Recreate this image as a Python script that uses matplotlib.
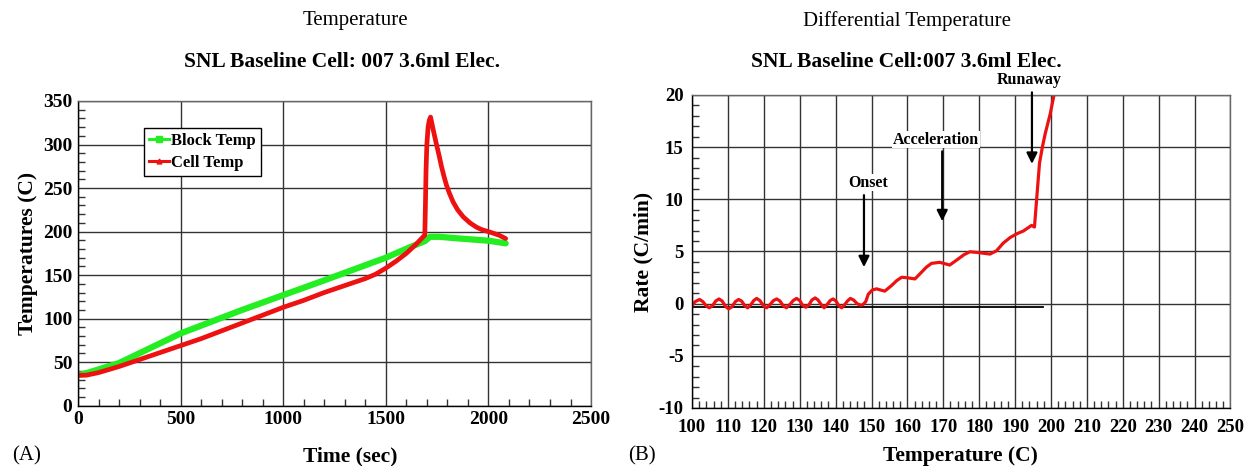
import matplotlib
matplotlib.use("Agg")
import matplotlib.pyplot as plt
from matplotlib.ticker import MultipleLocator
from matplotlib.lines import Line2D

plt.rcParams['font.family'] = ['Liberation Serif', 'DejaVu Serif']
plt.rcParams['axes.unicode_minus'] = False

# panel A: temperatures vs time
block_t = [0, 50, 200, 500, 800, 1000, 1200, 1500, 1617, 1690, 1715, 1760, 1861, 2000, 2084]
block_temp = [35, 38, 49, 83, 110, 127, 144, 170, 182, 189, 194, 194, 192, 189.5, 186.5]

cell_t = [0, 40, 100, 200, 300, 400, 500, 600, 700, 800, 900, 1000, 1100, 1200, 1300,
          1400, 1450, 1500, 1550, 1600, 1650, 1690, 1693, 1696, 1700, 1706, 1712, 1718,
          1730, 1747, 1760, 1771, 1785, 1796, 1810, 1828, 1850, 1877, 1910, 1942, 1970,
          2000, 2050, 2084]
cell_temp = [35, 35, 38, 45, 53, 61, 69, 77, 86, 95, 104, 113, 121, 130, 138,
             146, 151, 158, 166, 175, 186, 196, 230, 270, 300, 320, 328, 331.5,
             318, 300, 287, 275, 262, 253, 244, 234, 225, 217, 210, 205, 202,
             200, 196, 192]

# panel B: rate vs temperature
rate_T = [100.0, 100.9, 102.1, 103.0, 103.9, 104.8, 105.7, 106.6, 107.5, 108.4, 109.3,
          110.2, 111.1, 112.1, 113.0, 113.8, 114.7, 115.5, 116.4, 117.2, 118.0, 118.9,
          119.9, 120.8, 121.7, 122.7, 123.6, 124.5, 125.4, 126.3, 127.2, 128.2, 129.1,
          130.0, 130.8, 131.7, 132.6, 133.4, 134.3, 135.1, 136.0, 136.8, 137.6, 138.5,
          139.3, 140.1, 140.9, 141.7, 142.5, 143.3, 144.1, 145.0, 146.0, 147.0, 147.6,
          148.4, 149.1, 150.2, 151.4, 152.6, 153.7, 155.6, 157.0, 158.4, 160.2, 162.1,
          163.9, 165.3, 166.7, 169.0, 171.8, 174.1, 175.8, 177.4, 179.7, 183.0, 184.8,
          186.7, 188.6, 190.5, 192.3, 194.6, 195.4, 196.0, 196.8, 197.6, 198.4, 199.8,
          200.9, 201.5]
rate = [-0.2, 0.2, 0.4, 0.2, -0.2, -0.4, -0.2, 0.25, 0.45, 0.25, -0.25,
        -0.5, -0.3, 0.2, 0.4, 0.25, -0.2, -0.4, -0.1, 0.3, 0.5, 0.3,
        -0.2, -0.4, -0.1, 0.3, 0.45, 0.25, -0.2, -0.4, -0.1, 0.3, 0.5,
        0.3, -0.15, -0.35, -0.1, 0.35, 0.55, 0.35, -0.1, -0.4, -0.1, 0.3,
        0.45, 0.25, -0.2, -0.4, -0.1, 0.25, 0.5, 0.35, 0.0, -0.15, -0.1,
        0.2, 0.9, 1.3, 1.42, 1.3, 1.2, 1.74, 2.2, 2.53, 2.47, 2.37,
        3.0, 3.5, 3.86, 3.96, 3.7, 4.27, 4.7, 4.97, 4.9, 4.75, 5.06,
        5.8, 6.33, 6.7, 6.96, 7.5, 7.34, 9.97, 13.45, 15.0, 16.3, 18.2,
        20.1, 21.0]
baseline_T = [100, 197.7]
baseline_rate = [-0.32, -0.32]

# annotations: label, arrow x, arrow tail y, arrow tip y, text x, text y
notes = [("Onset", 147.9, 10.4, 3.5, 149.1, 11.6),
         ("Acceleration", 169.7, 14.6, 7.9, 168.0, 15.7),
         ("Runaway", 194.7, 20.25, 13.4, 194.0, 21.4)]

fig = plt.figure(figsize=(12.44, 4.66), dpi=100)
axA = fig.add_axes([0.0627, 0.1294, 0.4124, 0.6539])
axB = fig.add_axes([0.5563, 0.1245, 0.4328, 0.6717])


def style_axes(ax, size):
    ax.grid(True, which='major', color='#333333', lw=1.0)
    ax.set_axisbelow(True)
    for s in ax.spines.values():
        s.set_color('#666666')
        s.set_linewidth(1.0)
    ax.spines['left'].set_color('black')
    ax.spines['bottom'].set_color('black')
    ax.tick_params(which='both', direction='in', top=False, right=False,
                   labelsize=size, pad=4)
    ax.tick_params(which='major', length=0)
    ax.tick_params(which='minor', length=5, width=1.0, color='#333333')
    for lab in ax.get_xticklabels() + ax.get_yticklabels():
        lab.set_fontweight('bold')


# ---- panel A
axA.plot(block_t, block_temp, color='#22ee22', lw=4.5, solid_capstyle='round')
axA.plot(cell_t, cell_temp, color='#ee1111', lw=3.4, solid_capstyle='round')
axA.set_xlim(0, 2500)
axA.set_ylim(0, 350)
axA.xaxis.set_major_locator(MultipleLocator(500))
axA.xaxis.set_minor_locator(MultipleLocator(100))
axA.yaxis.set_major_locator(MultipleLocator(50))
axA.yaxis.set_minor_locator(MultipleLocator(10))
style_axes(axA, 14)
axA.set_ylabel("Temperatures (C)", fontsize=15.5, fontweight='bold', labelpad=4)

handles = [Line2D([], [], color='#22ee22', lw=2.2, marker='s', ms=4),
           Line2D([], [], color='#ee1111', lw=2.2, marker='^', ms=3.5)]
leg = axA.legend(handles, ["Block Temp", "Cell Temp"], loc='upper left',
                 bbox_to_anchor=(0.128, 0.912), frameon=True, fancybox=False,
                 edgecolor='black', framealpha=1, handlelength=1.2,
                 handletextpad=0.15, borderpad=0.3, labelspacing=0.35,
                 borderaxespad=0, prop={'weight': 'bold', 'size': 12})
leg.get_frame().set_linewidth(1.0)

# ---- panel B
axB.plot(baseline_T, baseline_rate, color='black', lw=1.3)
axB.plot(rate_T, rate, color='#ee1111', lw=2.3)
axB.set_xlim(100, 250)
axB.set_ylim(-10, 20)
axB.xaxis.set_major_locator(MultipleLocator(10))
axB.xaxis.set_minor_locator(MultipleLocator(2))
axB.yaxis.set_major_locator(MultipleLocator(5))
axB.yaxis.set_minor_locator(MultipleLocator(1))
style_axes(axB, 13.5)
axB.tick_params(axis='x', which='major', pad=8)
axB.tick_params(axis='y', which='major', pad=6)
axB.set_ylabel("Rate (C/min)", fontsize=15.5, fontweight='bold', labelpad=4)

for label, ax_x, tail_y, tip_y, tx, ty in notes:
    axB.annotate("", xy=(ax_x, tip_y), xytext=(ax_x, tail_y),
                 arrowprops=dict(arrowstyle='-|>', color='black', lw=1.6,
                                 mutation_scale=16, shrinkA=0, shrinkB=0))
    axB.text(tx, ty, label, ha='center', va='center', fontsize=11.5,
             fontweight='bold', clip_on=False,
             bbox=dict(facecolor='white', edgecolor='none', pad=0.5))

# ---- figure texts
fig.text(355 / 1244, 1 - 21 / 466, "Temperature", ha='center', va='center', fontsize=15)
fig.text(342 / 1244, 1 - 62 / 466, "SNL Baseline Cell: 007 3.6ml Elec.",
         ha='center', va='center', fontsize=15.5, fontweight='bold')
fig.text(907 / 1244, 1 - 21 / 466, "Differential Temperature", ha='center',
         va='center', fontsize=15)
fig.text(906 / 1244, 1 - 62 / 466, "SNL Baseline Cell:007 3.6ml Elec.",
         ha='center', va='center', fontsize=15.5, fontweight='bold')
fig.text(12 / 1244, 1 - 456 / 466, "(A)", ha='left', va='center', fontsize=15)
fig.text(628 / 1244, 1 - 456 / 466, "(B)", ha='left', va='center', fontsize=15)
fig.text(350 / 1244, 1 - 456 / 466, "Time (sec)", ha='center', va='center',
         fontsize=15.5, fontweight='bold')
fig.text(960 / 1244, 1 - 456 / 466, "Temperature (C)", ha='center', va='center',
         fontsize=15.5, fontweight='bold')

fig.savefig("out.png", dpi=100, facecolor='white')
